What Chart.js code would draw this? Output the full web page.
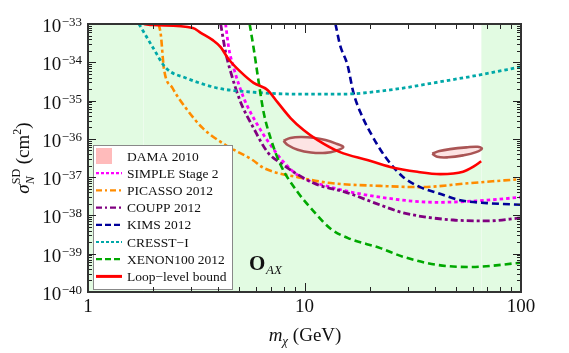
<!DOCTYPE html>
<html>
<head>
<meta charset="utf-8">
<script src="https://cdn.jsdelivr.net/npm/chart.js@4/dist/chart.umd.min.js"></script>
<style>
  html, body { margin: 0; padding: 0; background: #fff; }
</style>
</head>
<body>
<canvas id="limitChart" width="569" height="353"></canvas>
<script>
// [m_chi (GeV), sigma_N^SD (cm^2)]
const xTickValues = [1, 10, 100];
const xTickLabels = ['1', '10', '100'];
const yTickExponents = [-40, -39, -38, -37, -36, -35, -34, -33];

const loopBound = [[1.81,1e-33],[1.99,9.4e-34],[3.05,7.9e-34],[3.32,5.9e-34],[3.77,3.8e-34],[4.10,2.5e-34],[4.42,1.3e-34],[5.07,5.6e-35],[5.82,2.9e-35],[6.75,1.9e-35],[7.5,9.1e-36],[8.62,3.5e-36],[9.9,1.7e-36],[11.5,9.3e-37],[14.6,4.5e-37],[19.5,2.8e-37],[24.9,1.85e-37],[33.2,1.38e-37],[42.4,1.2e-37],[54,1.38e-37],[60,1.85e-37],[65.5,2.6e-37]];
const cresst = [[1.72,1e-33],[2.0,2.37e-34],[2.29,7.1e-35],[2.83,3.9e-35],[4.01,2.1e-35],[5.64,1.67e-35],[9.6,1.47e-35],[14.7,1.47e-35],[24.9,1.9e-35],[42.4,3.1e-35],[64.7,4.7e-35],[100,7.6e-35]];
const picasso = [[2.12,1e-33],[2.17,5.2e-34],[2.24,7.1e-35],[2.46,2.1e-35],[2.83,6.4e-36],[3.39,1.9e-36],[4.32,6.9e-37],[5.76,2.8e-37],[6.47,1.74e-37],[9.29,1.0e-37],[13.2,7.0e-38],[22.4,5.9e-38],[34.2,5.5e-38],[58.2,7.0e-38],[100,8.9e-38]];
const simple = [[4.32,1e-33],[4.47,2.37e-34],[4.71,7.1e-35],[5.24,1.17e-35],[6.07,2.3e-36],[6.97,6.9e-37],[8.0,2.5e-37],[9.29,1.14e-37],[13.2,5.5e-38],[22.4,3.0e-38],[41,2.2e-38],[69.7,2.5e-38],[100,3.0e-38]];
const coupp = [[4.10,1e-33],[4.32,1.86e-34],[4.56,5.6e-35],[5.07,9.1e-36],[5.82,1.9e-36],[6.75,4.5e-37],[7.75,2.35e-37],[11.0,7.0e-38],[15.8,3.9e-38],[22.4,1.87e-38],[28.6,1.17e-38],[48.6,7.6e-39],[69.7,7.2e-39],[100,8.6e-39]];
const xenon = [[5.58,1e-33],[5.82,2.37e-34],[6.14,3.1e-35],[6.47,5.0e-36],[6.97,1.05e-36],[7.75,2.1e-37],[9.29,4.1e-38],[11.0,1.3e-38],[13.2,4.5e-39],[15.8,2.6e-39],[22.4,1.4e-39],[28.6,8.3e-40],[41,5.1e-40],[58.2,4.5e-40],[100,5.8e-40]];
const kims = [[13.9,1e-33],[14.6,2.8e-34],[15.8,8.5e-35],[16.8,1.67e-35],[18.1,5.0e-36],[20.1,1.5e-36],[23.6,3.4e-37],[28.6,1.0e-37],[34.2,5.5e-38],[41,3.9e-38],[52.4,2.5e-38],[69.7,2.1e-38],[100,1.9e-38]];
const damaLow = [[8.0,8.9e-37],[8.6,1.05e-36],[9.6,1.12e-36],[11.0,1.07e-36],[12.5,9.3e-37],[14.0,7.5e-37],[15.1,6.1e-37],[14.0,4.9e-37],[12.5,4.3e-37],[10.7,4.4e-37],[9.3,5.2e-37],[8.4,6.8e-37],[8.0,8.9e-37]];
const damaHigh = [[38.9,4.1e-37],[42,4.8e-37],[47,5.4e-37],[56,6.0e-37],[63,6.2e-37],[66,5.6e-37],[62,4.5e-37],[54,3.7e-37],[46,3.3e-37],[41,3.4e-37],[38.9,4.1e-37]];
// allowed region strips at low and high mass
const shadeLeft = [[1,1e-33],[1.81,1e-33]];
const shadeRight = [[65.5,1e-33],[100,1e-33]];

const GREEN_BG = '#e2fbe2';
const SERIF = '"Liberation Serif", "DejaVu Serif", serif';

const pts = arr => arr.map(([x, y]) => ({ x, y }));

function curve(label, data, color, dash, width, order) {
  return {
    label, data: pts(data), showLine: true, borderColor: color, borderDash: dash,
    borderWidth: width, pointRadius: 0, fill: false, cubicInterpolationMode: 'monotone', order
  };
}

const legendRows = [
  { text: 'DAMA 2010', box: '#ffbbbb' },
  { text: 'SIMPLE Stage 2', color: '#ff00ff', dash: [3, 2] },
  { text: 'PICASSO 2012', color: '#ff8c00', dash: [6, 3, 2, 3] },
  { text: 'COUPP 2012', color: '#800080', dash: [6, 3, 2, 3] },
  { text: 'KIMS 2012', color: '#000099', dash: [6, 3] },
  { text: 'CRESST\u2212I', color: '#00a8a8', dash: [3, 2] },
  { text: 'XENON100 2012', color: '#00a800', dash: [6, 3] },
  { text: 'Loop\u2212level bound', color: '#ff0000', dash: [] }
];

// legend, ticks, frame, tick labels and titles
const decorations = {
  id: 'decorations',
  afterDatasetsDraw(chart) {
    const { ctx, chartArea: a, scales: { x, y } } = chart;
    ctx.save();

    // legend box
    const lx = 93, ly = 145, lw = 139, lh = 144;
    ctx.fillStyle = '#fff';
    ctx.fillRect(lx, ly, lw, lh);
    ctx.strokeStyle = '#888';
    ctx.lineWidth = 1;
    ctx.strokeRect(lx + 0.5, ly + 0.5, lw, lh);
    ctx.font = '13.5px ' + SERIF;
    ctx.textBaseline = 'middle';
    ctx.textAlign = 'left';
    legendRows.forEach((r, i) => {
      const cy = 156 + i * 17.2;
      if (r.box) {
        ctx.fillStyle = r.box;
        ctx.fillRect(96, cy - 8, 16, 16);
      } else {
        ctx.strokeStyle = r.color;
        ctx.lineWidth = r.dash.length ? 2.2 : 3;
        ctx.setLineDash(r.dash);
        ctx.beginPath();
        ctx.moveTo(96, cy);
        ctx.lineTo(122, cy);
        ctx.stroke();
        ctx.setLineDash([]);
      }
      ctx.fillStyle = '#111';
      ctx.fillText(r.text, 127, cy + 1);
    });

    // ticks on all four sides, pointing inward
    ctx.strokeStyle = '#222';
    ctx.lineWidth = 1;
    const tickX = (v, len) => {
      const px = Math.round(x.getPixelForValue(v)) + 0.5;
      ctx.beginPath();
      ctx.moveTo(px, a.bottom); ctx.lineTo(px, a.bottom - len);
      ctx.moveTo(px, a.top); ctx.lineTo(px, a.top + len);
      ctx.stroke();
    };
    const tickY = (v, len) => {
      const py = Math.round(y.getPixelForValue(v)) + 0.5;
      ctx.beginPath();
      ctx.moveTo(a.left, py); ctx.lineTo(a.left + len, py);
      ctx.moveTo(a.right, py); ctx.lineTo(a.right - len, py);
      ctx.stroke();
    };
    [1, 10].forEach(d => { for (let k = 2; k <= 9; k++) tickX(k * d, 5); });
    xTickValues.forEach(v => tickX(v, 9));
    yTickExponents.slice(0, -1).forEach(e => { for (let k = 2; k <= 9; k++) tickY(k * Math.pow(10, e), 4); });
    yTickExponents.forEach(e => tickY(Math.pow(10, e), 8));

    // frame
    ctx.strokeStyle = '#333';
    ctx.lineWidth = 2;
    ctx.strokeRect(a.left, a.top, a.right - a.left, a.bottom - a.top);

    // y tick labels 10^n
    ctx.fillStyle = '#111';
    ctx.textBaseline = 'alphabetic';
    yTickExponents.forEach(e => {
      const py = y.getPixelForValue(Math.pow(10, e));
      const sup = '\u2212' + Math.abs(e);
      ctx.font = '13px ' + SERIF;
      const sw = ctx.measureText(sup).width;
      ctx.textAlign = 'right';
      ctx.fillText(sup, 82, py + 2);
      ctx.font = '19px ' + SERIF;
      ctx.fillText('10', 82 - sw - 0.5, py + 8);
    });

    // x tick labels
    ctx.font = '19px ' + SERIF;
    ctx.textAlign = 'center';
    xTickValues.forEach((v, i) => ctx.fillText(xTickLabels[i], x.getPixelForValue(v), 312));

    // x title: m_chi (GeV)
    ctx.textAlign = 'left';
    ctx.font = 'italic 19px ' + SERIF;
    const mW = ctx.measureText('m').width;
    ctx.font = 'italic 13px ' + SERIF;
    const chiW = ctx.measureText('\u03c7').width;
    ctx.font = '19px ' + SERIF;
    const gW = ctx.measureText(' (GeV)').width;
    let tx = 305 - (mW + chiW + gW) / 2;
    ctx.font = 'italic 19px ' + SERIF;
    ctx.fillText('m', tx, 341); tx += mW;
    ctx.font = 'italic 13px ' + SERIF;
    ctx.fillText('\u03c7', tx, 345); tx += chiW;
    ctx.font = '19px ' + SERIF;
    ctx.fillText(' (GeV)', tx, 341);

    // y title: sigma_N^SD (cm^2)
    ctx.save();
    ctx.translate(29, 158);
    ctx.rotate(-Math.PI / 2);
    const parts = [
      { t: '\u03c3', f: 'italic 19px ', dy: 0 },
      { t: 'SD', f: '12px ', dy: -9, stack: true },
      { t: ' (cm', f: '19px ', dy: 0 },
      { t: '2', f: '12px ', dy: -8 },
      { t: ')', f: '19px ', dy: 0 }
    ];
    let total = 0;
    parts.forEach(p => { ctx.font = p.f + SERIF; p.w = ctx.measureText(p.t).width; total += p.w; });
    let px = -total / 2;
    parts.forEach(p => {
      ctx.font = p.f + SERIF;
      ctx.fillText(p.t, px, p.dy);
      if (p.stack) {
        ctx.font = 'italic 12px ' + SERIF;
        ctx.fillText('N', px, 5);
      }
      px += p.w;
    });
    ctx.restore();

    // operator label O_AX
    ctx.font = 'bold 21px ' + SERIF;
    ctx.fillText('O', 249, 270);
    ctx.font = 'italic 13px ' + SERIF;
    ctx.fillText('AX', 266, 274);

    ctx.restore();
  }
};

new Chart(document.getElementById('limitChart'), {
  type: 'scatter',
  data: {
    datasets: [
      curve('Loop-level bound', loopBound, '#ff0000', [], 2.6, 1),
      curve('XENON100 2012', xenon, '#00a800', [7, 4], 2.6, 2),
      curve('CRESST-I', cresst, '#00a8a8', [3.5, 3], 2.8, 3),
      curve('KIMS 2012', kims, '#000099', [7, 4], 2.6, 4),
      curve('COUPP 2012', coupp, '#800080', [7, 3, 3, 3], 2.8, 5),
      curve('PICASSO 2012', picasso, '#ff8c00', [7, 3, 3, 3], 2.6, 6),
      curve('SIMPLE Stage 2', simple, '#ff00ff', [3.5, 3], 2.8, 7),
      { label: 'DAMA low', data: pts(damaLow), showLine: true, borderColor: '#aa5555', borderWidth: 2.6,
        backgroundColor: '#fde4e4', fill: 'shape', pointRadius: 0, tension: 0.4, order: 8 },
      { label: 'DAMA high', data: pts(damaHigh), showLine: true, borderColor: '#aa5555', borderWidth: 2.6,
        backgroundColor: '#fde4e4', fill: 'shape', pointRadius: 0, tension: 0.4, order: 8 },
      { label: 'shade loop', data: pts(loopBound), showLine: true, borderWidth: 0, borderColor: 'transparent',
        backgroundColor: GREEN_BG, fill: 'start', pointRadius: 0, cubicInterpolationMode: 'monotone', order: 20 },
      { label: 'shade left', data: pts(shadeLeft), showLine: true, borderWidth: 0, borderColor: 'transparent',
        backgroundColor: GREEN_BG, fill: 'start', pointRadius: 0, order: 20 },
      { label: 'shade right', data: pts(shadeRight), showLine: true, borderWidth: 0, borderColor: 'transparent',
        backgroundColor: GREEN_BG, fill: 'start', pointRadius: 0, order: 20 }
    ]
  },
  options: {
    responsive: false,
    animation: false,
    layout: { padding: { top: 24, right: 48, left: 0, bottom: 0 } },
    plugins: {
      legend: { display: false },
      tooltip: { enabled: false },
      filler: { drawTime: 'beforeDatasetsDraw' }
    },
    scales: {
      x: {
        type: 'logarithmic', min: 1, max: 100,
        ticks: { display: false }, grid: { display: false }, border: { display: false },
        afterFit: s => { s.height = 61; }
      },
      y: {
        type: 'logarithmic', min: 1e-40, max: 1e-33,
        ticks: { display: false }, grid: { display: false }, border: { display: false },
        afterFit: s => { s.width = 88; }
      }
    }
  },
  plugins: [decorations]
});
</script>
</body>
</html>
